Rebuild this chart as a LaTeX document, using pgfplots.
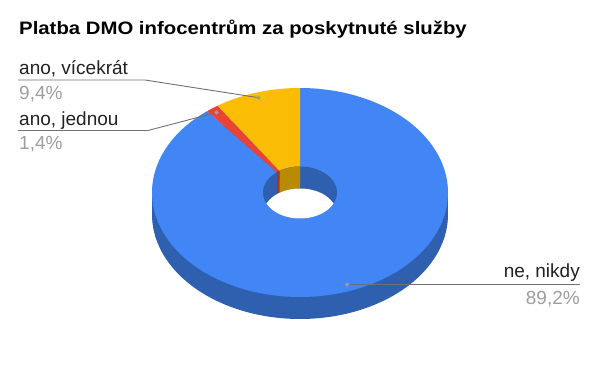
\documentclass[border=0pt]{standalone}
\usepackage{pgfplots}
\pgfplotsset{compat=1.18}
\usepackage{fontspec}
\setmainfont{Liberation Sans}
\usepackage{graphicx}

\definecolor{cblue}{HTML}{4285F4}
\definecolor{cbluedark}{HTML}{2F60B0}
\definecolor{cred}{HTML}{EA4335}
\definecolor{creddark}{HTML}{A8302A}
\definecolor{cyel}{HTML}{FBBC04}
\definecolor{cyeldark}{HTML}{B98A03}
\definecolor{lead}{HTML}{707070}
\definecolor{pct}{HTML}{9E9E9E}
\definecolor{txt}{HTML}{212121}

% data (percent)
\def\vA{89.2} % ne, nikdy
\def\vB{1.4}  % ano, jednou
\def\vC{9.4}  % ano, vicekrat

\pgfmathsetmacro\aA{90-3.6*\vA}
\pgfmathsetmacro\aB{\aA-3.6*\vB}
\pgfmathsetmacro\aC{\aB-3.6*\vC}
\pgfmathsetmacro\wA{\aA+360}
\pgfmathsetmacro\wB{\aB+360}

% geometry (px)
\def\cx{300}\def\cy{192.5}\def\rx{148}\def\ry{104.5}\def\dep{22}
\def\hrx{37}\def\hry{26}
\pgfmathsetmacro\ang{asin(\dep/(2*\hry))}
\pgfmathsetmacro\angA{180+\ang}
\pgfmathsetmacro\angS{180-2*\ang}

\begin{document}
\begin{tikzpicture}
\begin{axis}[
  at={(0,0)}, anchor=south west,
  scale only axis, width=600pt, height=371pt,
  xmin=0, xmax=600, ymin=0, ymax=371, y dir=reverse,
  hide axis, clip=false,
]
\path (axis cs:0,0) rectangle (axis cs:600,371);

% outer side wall
\addplot[fill=cbluedark, draw=none, domain=0:360, samples=181]
  ({\cx+\rx*cos(x)},{\cy+\dep-\ry*sin(x)}) -- cycle;
\addplot[fill=cbluedark, draw=none] coordinates
  {(152,192.5) (448,192.5) (448,214.5) (152,214.5)} -- cycle;

% top face wedges
\addplot[fill=cblue, draw=none, domain=\aA:90, samples=200]
  ({\cx+\rx*cos(x)},{\cy-\ry*sin(x)}) -- (axis cs:\cx,\cy) -- cycle;
\addplot[fill=cred, draw=none, domain=\aB:\aA, samples=10]
  ({\cx+\rx*cos(x)},{\cy-\ry*sin(x)}) -- (axis cs:\cx,\cy) -- cycle;
\addplot[fill=cyel, draw=none, domain=\aC:\aB, samples=30]
  ({\cx+\rx*cos(x)},{\cy-\ry*sin(x)}) -- (axis cs:\cx,\cy) -- cycle;

% hole
\addplot[fill=cbluedark, draw=none, domain=0:360, samples=121]
  ({\cx+\hrx*cos(x)},{\cy-\hry*sin(x)}) -- cycle;
% inner walls (yellow, red)
\addplot[fill=cyeldark, draw=none, domain=0:2, samples=201]
  ({\cx+\hrx*cos(ifthenelse(x<1, 90+(\wB-90)*x, \wB-(\wB-90)*(x-1)))},
   {ifthenelse(x<1, \cy-\hry*sin(90+(\wB-90)*x), \cy+\dep-\hry*sin(\wB-(\wB-90)*(x-1)))}) -- cycle;
\addplot[fill=creddark, draw=none, domain=0:2, samples=101]
  ({\cx+\hrx*cos(ifthenelse(x<1, \wB+(\wA-\wB)*x, \wA-(\wA-\wB)*(x-1)))},
   {ifthenelse(x<1, \cy-\hry*sin(\wB+(\wA-\wB)*x), \cy+\dep-\hry*sin(\wA-(\wA-\wB)*(x-1)))}) -- cycle;
% see-through part of the hole
\addplot[fill=white, draw=none, domain=0:2, samples=201]
  ({\cx+\hrx*cos(ifthenelse(x<1, \angA+\angS*x, \ang+\angS*(x-1)))},
   {ifthenelse(x<1, \cy-\hry*sin(\angA+\angS*x), \cy+\dep-\hry*sin(\ang+\angS*(x-1)))}) -- cycle;

% leader lines
\addplot[lead, line width=0.9pt] coordinates {(18,80) (145,80) (258.6,97.7)};
\addplot[lead, line width=0.9pt] coordinates {(18,130.5) (148,130.5) (216.5,112.5)};
\addplot[lead, line width=0.9pt] coordinates {(347,284.5) (580,284.5)};
\addplot[only marks, mark=*, mark size=1.8pt, pct, mark options={draw=pct, fill=pct}]
  coordinates {(258.6,97.7) (216.5,112.5) (347,284.5)};

% labels
\node[anchor=base west, inner sep=0, text=black] at (axis cs:19,35)
  {\scalebox{1.13}[1]{\fontsize{18}{21}\selectfont\bfseries Platba DMO infocentrům za poskytnuté služby}};
\node[anchor=base west, inner sep=0, text=txt, font=\fontsize{19}{22}\selectfont] at (axis cs:19,75) {ano, vícekrát};
\node[anchor=base west, inner sep=0, text=pct, font=\fontsize{19}{22}\selectfont] at (axis cs:19,100) {9,4\%};
\node[anchor=base west, inner sep=0, text=txt, font=\fontsize{19}{22}\selectfont] at (axis cs:19,125.5) {ano, jednou};
\node[anchor=base west, inner sep=0, text=pct, font=\fontsize{19}{22}\selectfont] at (axis cs:19,150) {1,4\%};
\node[anchor=base east, inner sep=0, text=txt, font=\fontsize{19}{22}\selectfont] at (axis cs:580,278) {ne, nikdy};
\node[anchor=base east, inner sep=0, text=pct, font=\fontsize{19}{22}\selectfont] at (axis cs:580,305) {89,2\%};
\end{axis}
\end{tikzpicture}
\end{document}
